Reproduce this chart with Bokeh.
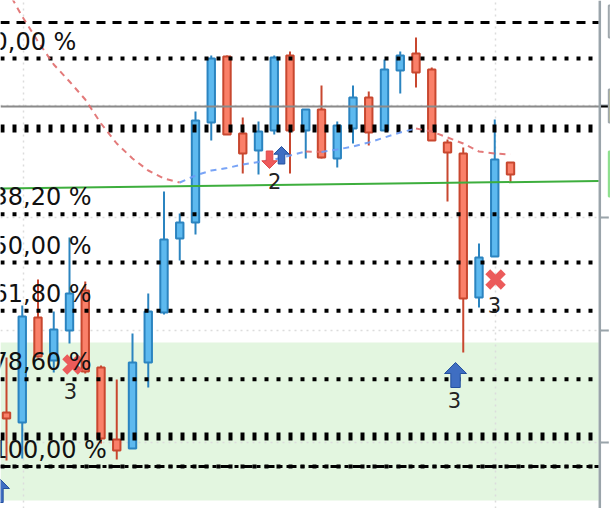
from bokeh.plotting import figure
from bokeh.models import Range1d, FixedTicker, Span
from bokeh.core.properties import value
from bokeh.embed import file_html
from bokeh.resources import INLINE

# candles, one per bar (price units)
opens  = [96, 86, 191, 148, 178, 218, 141, 69, 60, 146, 196, 270, 286, 386, 452, 375, 358,
          378, 453, 378, 399, 350, 380, 411, 378, 438, 455, 439, 366, 355, 211, 252, 346]
closes = [90, 192, 152, 179, 215, 137, 70, 58, 146, 197, 269, 286, 388, 450, 374, 355, 377,
          451, 378, 399, 351, 383, 411, 376, 439, 453, 436, 368, 356, 210, 251, 349, 334]
highs  = [151, 203, 229, 197, 271, 227, 143, 129, 175, 215, 317, 295, 397, 453, 453, 391, 387,
          453, 457, 399, 423, 387, 423, 417, 449, 457, 471, 441, 369, 361, 265, 389, 346]
lows   = [48, 50, 151, 136, 165, 135, 65, 49, 60, 121, 194, 248, 274, 368, 374, 335, 334,
          374, 335, 350, 350, 341, 365, 363, 378, 415, 421, 368, 307, 156, 201, 252, 326]

# moving average
ma = [520, 492, 467, 444, 427, 409, 385, 365, 350, 338, 330, 326, 333, 338, 340.5, 344, 346.5,
      349, 353, 357, 356.5, 359, 362, 366, 371, 376, 380, 377, 371, 365, 357, 355, 354]

# fibonacci retracement
fib_high = 450
fib_low = 42
fib_ratios = [0.0, 0.382, 0.5, 0.618, 0.786, 1.0]

top_dash_level = 486
thick_levels = [380, 72]
last_price = 402

trend_x = [-0.4, 37.6]
trend_y = [320, 327.5]

zone_bottom = 8
zone_top = 166

grid_prices = [403, 291, 178, 66]
grid_bars = [1.08, 31.05]

# price scale tags (cut off at the right edge)
tag_bottom = [471, 386, 312]
tag_top = [503, 419, 357]
tag_fill = ["white", "#f4f06a", "#8fe08f"]
tag_line = ["#a0a8ad", "#a0a8ad", "#8fe08f"]

# signals
cross_x = [4.19, 31.05]
cross_y = [144, 229]
up_x = [28.51, 17.46, -0.51]
up_y = [146, 362, 31]
up_size = [1.0, 0.7, 1.0]
down_x = [16.70]
down_y = [340]
down_size = [0.7]
sig_lbl_x = [4.06, 30.98, 28.44, 17.02]
sig_lbl_y = [118, 204, 109, 328]
sig_lbl = ["3", "3", "3", "2"]

BAR_PX = 15.75
X0, X1 = -6 / BAR_PX, 604 / BAR_PX
AXIS_X = 37.67
LINE_END = 37.6
TICK = 9 / BAR_PX

p = figure(width=610, height=508, x_range=Range1d(X0, X1), y_range=Range1d(0, 508),
           toolbar_location=None, output_backend="svg", min_border=0)
p.outline_line_color = None
p.background_fill_color = "white"
p.xaxis.visible = False
p.yaxis.visible = False
p.xgrid.ticker = FixedTicker(ticks=grid_bars)
p.ygrid.ticker = FixedTicker(ticks=grid_prices)
for g in (p.xgrid, p.ygrid):
    g.grid_line_color = "#dcdcdc"
    g.grid_line_width = 1.5
    g.grid_line_dash = "2 4"

# green zone
p.quad(left=[X0], right=[LINE_END], bottom=[zone_bottom], top=[zone_top],
       fill_color="#e3f6e0", line_color=None, level="image")

# candles
xs = list(range(len(opens)))
up_bar = [c >= o for o, c in zip(opens, closes)]
edge = ["#2b84c0" if u else "#c8472f" for u in up_bar]
fill = ["#5db9ef" if u else "#fa8069" for u in up_bar]
p.segment(x0=xs, y0=highs, x1=xs, y1=lows, line_color=edge, line_width=2)
p.vbar(x=xs, width=0.47, top=[max(o, c) for o, c in zip(opens, closes)],
       bottom=[min(o, c) for o, c in zip(opens, closes)],
       fill_color=fill, line_color=edge, line_width=2)

# level lines
fib_levels = [fib_high - r * (fib_high - fib_low) for r in fib_ratios]
n = len(fib_levels)
p.segment(x0=[X0] * n, y0=fib_levels, x1=[LINE_END] * n, y1=fib_levels,
          line_color="black", line_width=4, line_dash="4 8")
p.segment(x0=[X0] * 2, y0=thick_levels, x1=[LINE_END] * 2, y1=thick_levels,
          line_color="black", line_width=8, line_dash="4 8")
p.segment(x0=[X0], y0=[top_dash_level], x1=[LINE_END], y1=[top_dash_level],
          line_color="black", line_width=3, line_dash="9 7")
p.segment(x0=[X0], y0=[fib_low], x1=[LINE_END], y1=[fib_low],
          line_color="black", line_width=3, line_dash="10 4 4 4")

p.segment(x0=[X0], y0=[last_price], x1=[AXIS_X], y1=[last_price],
          line_color="#8a8a8a", line_width=2)

# right price scale
p.add_layout(Span(location=AXIS_X, dimension="height", line_color="#9aa4aa", line_width=2.5))
g_n = len(grid_prices)
p.segment(x0=[AXIS_X] * g_n, y0=grid_prices, x1=[AXIS_X + TICK] * g_n, y1=grid_prices,
          line_color="#9aa4aa", line_width=2)
p.segment(x0=[AXIS_X], y0=[last_price], x1=[AXIS_X + TICK], y1=[last_price],
          line_color="black", line_width=2)
t_n = len(tag_top)
p.quad(left=[AXIS_X + TICK] * t_n, right=[X1 + 1] * t_n, bottom=tag_bottom, top=tag_top,
       fill_color=tag_fill, line_color=tag_line, line_width=2)

# trend line
p.line(trend_x, trend_y, line_color="#3dae3d", line_width=2)

# moving average, coloured by direction
run_x, run_y, run_up = [xs[0]], [ma[0]], ma[1] >= ma[0]
runs = []
for i in range(1, len(ma)):
    d = ma[i] >= ma[i - 1]
    if d != run_up:
        runs.append((run_x, run_y, run_up))
        run_x, run_y, run_up = [xs[i - 1]], [ma[i - 1]], d
    run_x.append(xs[i])
    run_y.append(ma[i])
runs.append((run_x, run_y, run_up))
for rx, ry, ru in runs:
    p.line(rx, ry, line_color="#6a9af5" if ru else "#e06c6c", line_width=2,
           line_dash="6 5", line_alpha=0.9)


def arrow(x, tip, s, up):
    hw, hh, sw, ln = 11 * s, 11 * s, 4.7 * s, 25 * s
    d = -1 if up else 1
    ax = [x, x + hw / BAR_PX, x + sw / BAR_PX, x + sw / BAR_PX,
          x - sw / BAR_PX, x - sw / BAR_PX, x - hw / BAR_PX]
    ay = [tip, tip + d * hh, tip + d * hh, tip + d * ln, tip + d * ln, tip + d * hh, tip + d * hh]
    return ax, ay


ups = [arrow(x, y, s, True) for x, y, s in zip(up_x, up_y, up_size)]
p.patches([a[0] for a in ups], [a[1] for a in ups], fill_color="#3f6ec2",
          line_color="#23509e", line_width=1)
downs = [arrow(x, y, s, False) for x, y, s in zip(down_x, down_y, down_size)]
p.patches([a[0] for a in downs], [a[1] for a in downs], fill_color="#ee5a5a",
          line_color="#e04a4a", line_width=1)

p.scatter(cross_x, cross_y, marker="x", size=22, line_width=7, line_color="#eb5b5b")

# labels
fib_text = [f"{r * 100:.2f}".replace(".", ",") + " %" for r in fib_ratios]
p.text(x=[X0 - 8 / BAR_PX] * n, y=[v + 17 for v in fib_levels], text=fib_text,
       text_font=value("DejaVu Sans"), text_font_size="24px", text_color="#111111",
       text_baseline="middle", text_align="left")
p.text(x=sig_lbl_x, y=sig_lbl_y, text=sig_lbl, text_font=value("DejaVu Sans"),
       text_font_size="21px", text_color="#222222", text_baseline="middle",
       text_align="center")

open("out.html", "w").write(file_html(p, INLINE))
